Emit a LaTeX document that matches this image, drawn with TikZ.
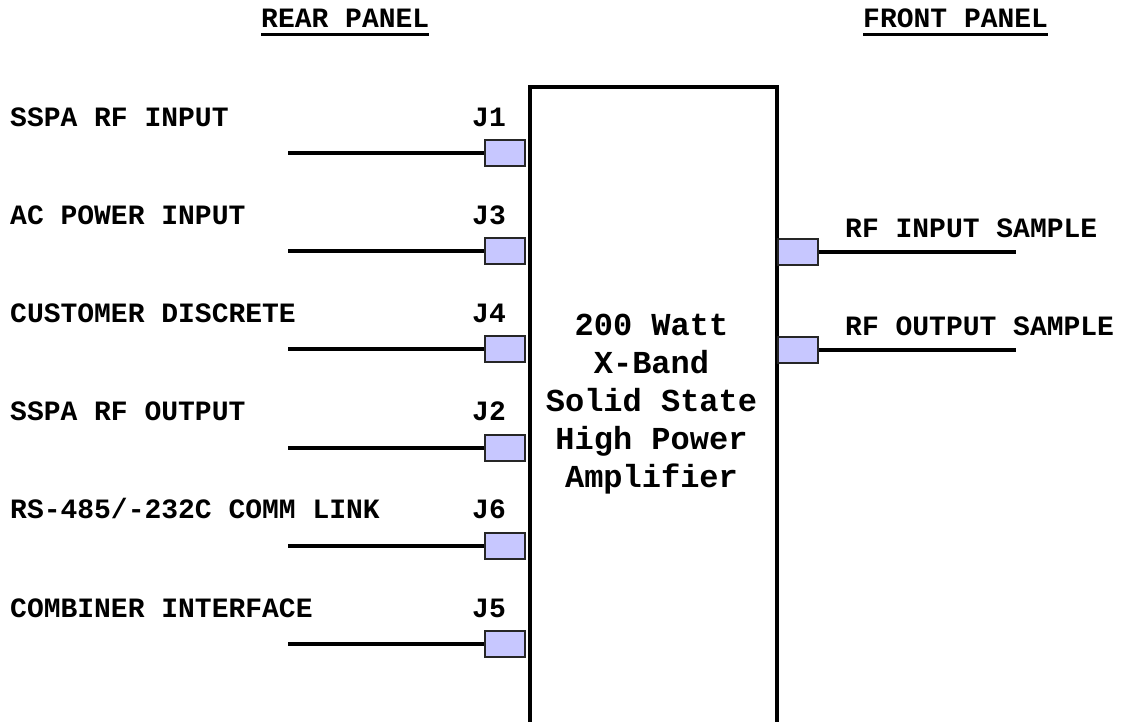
\documentclass[tikz,border=0pt]{standalone}
\usepackage{fontspec}
\setmainfont{Liberation Mono}
\begin{document}
\begin{tikzpicture}[x=1pt,y=-1pt,
  lbl/.style={font=\bfseries\fontsize{28}{28}\selectfont,inner sep=0pt,anchor=base west},
  conn/.style={draw=black!85,line width=2pt,fill=blue!22,minimum width=40pt,minimum height=26pt,inner sep=0pt},
  wire/.style={line width=4pt},
  hdr/.style={font=\bfseries\fontsize{28}{28}\selectfont,inner sep=0pt,anchor=base west}]
\useasboundingbox (0,0) rectangle (1122,721);
% main box
\node[draw,line width=4pt,minimum width=247pt,minimum height=700pt,inner sep=0pt,anchor=north west] (main) at (528,85) {};
\node[font=\bfseries\fontsize{32}{38}\selectfont,align=center,inner sep=0pt,anchor=base] (title) at (651.5,487)
  {200 Watt\\X-Band\\Solid State\\High Power\\Amplifier};
% headers
\node[hdr] (rear) at (261,27) {REAR PANEL};
\draw[line width=3pt] (rear.south west) ++(0,7) coordinate (ru1) -- (rear.south east |- ru1);
\node[hdr] (front) at (863,27) {FRONT PANEL};
\draw[line width=3pt] (front.south west) ++(0,7) coordinate (fu1) -- (front.south east |- fu1);
% left connectors
\foreach \i/\lab/\j [count=\k from 0] in {1/{SSPA RF INPUT}/J1,2/{AC POWER INPUT}/J3,3/{CUSTOMER DISCRETE}/J4,4/{SSPA RF OUTPUT}/J2,5/{RS-485/-232C COMM LINK}/J6,6/{COMBINER INTERFACE}/J5}{
  \pgfmathsetmacro{\yy}{153+98.2*\k}
  \node[conn] (c\i) at (505,\yy) {};
  \coordinate (e\i) at (288,\yy);
  \draw[wire] (e\i) -- (c\i.west);
  \node[lbl] (l\i) at (10,\yy-27) {\lab};
  \node[lbl] (jl\i) at (472,\yy-27) {\j};
}
% right connectors
\node[conn] (r1) at (798,252) {};
\coordinate (re1) at (1016,252);
\draw[wire] (r1.east) -- (re1);
\node[lbl] (rl1) at (845,237) {RF INPUT SAMPLE};
\node[conn] (r2) at (798,350) {};
\coordinate (re2) at (1016,350);
\draw[wire] (r2.east) -- (re2);
\node[lbl] (rl2) at (845,335) {RF OUTPUT SAMPLE};
\end{tikzpicture}
\end{document}
